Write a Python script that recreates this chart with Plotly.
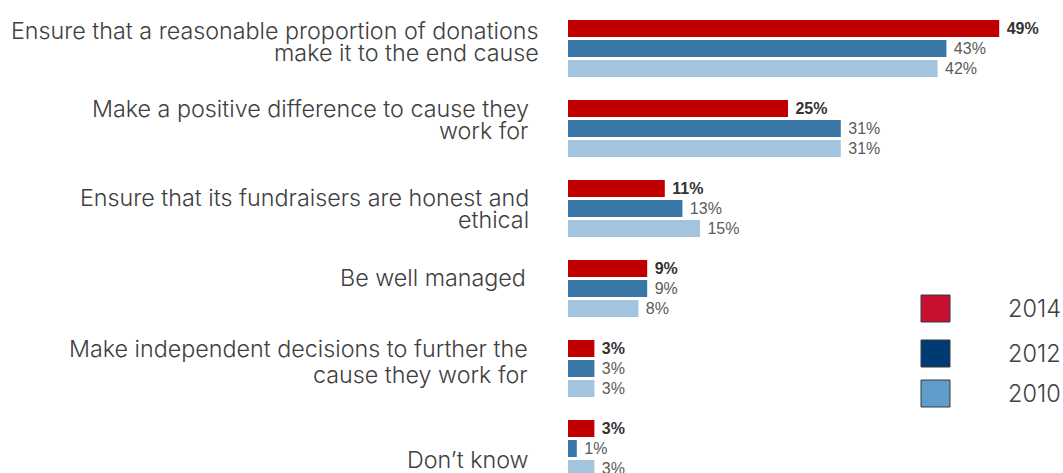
import plotly.graph_objects as go

# Survey responses: what charities should do (% of respondents)
categories = [
    "Ensure that a reasonable proportion of donations make it to the end cause",
    "Make a positive difference to cause they work for",
    "Ensure that its fundraisers are honest and ethical",
    "Be well managed",
    "Make independent decisions to further the cause they work for",
    "Don't know",
]
years = ["2014", "2012", "2010"]
values_2014 = [49, 25, 11, 9, 3, 3]
values_2012 = [43, 31, 13, 9, 3, 1]
values_2010 = [42, 31, 15, 8, 3, 3]

# Category text as shown beside each group: (lines, right edge px, line centres px)
label_lines = [
    ["Ensure that a reasonable proportion of donations", "make it to the end cause"],
    ["Make a positive difference to cause they", "work for"],
    ["Ensure that its fundraisers are honest and", "ethical"],
    ["Be well managed"],
    ["Make independent decisions to further the", "cause they work for"],
    ["Don\u2019t know"],
]
label_right = [541, 531, 531, 528, 530, 531]
label_y = [[30, 52], [109, 130], [197, 219], [277], [348, 374], [459]]

W, H = 1063, 473
bar_colors = ["#C00000", "#3A77A6", "#A3C4DE"]
legend_colors = ["#C60F31", "#003A72", "#5F9BCB"]
series = [values_2014, values_2012, values_2010]

fig = go.Figure()
for name, vals, col in zip(years, series, bar_colors):
    bold = name == "2014"
    fig.add_trace(go.Bar(
        name=name, y=categories, x=vals, orientation="h",
        marker=dict(color=col, line=dict(width=0)),
        texttemplate=("\u00a0<b>%{x}%</b>" if bold else "\u00a0%{x}%"),
        textposition="outside", constraintext="none", cliponaxis=False,
        textfont=dict(family="Liberation Sans", size=16,
                      color="#333333" if bold else "#5a5a5a"),
        hoverinfo="skip",
    ))

x0_px = 568
px_per_pct = 8.8
x_max = (W - x0_px) / px_per_pct
group_px, first_center = 80, 48.5

fig.update_layout(
    width=W, height=H, margin=dict(l=0, r=0, t=0, b=0),
    paper_bgcolor="white", plot_bgcolor="white",
    barmode="group", bargap=0.25, bargroupgap=0.15,
    showlegend=False,
    xaxis=dict(domain=[x0_px / W, 1], range=[0, x_max], visible=False, fixedrange=True),
    yaxis=dict(domain=[0, 1], type="category", visible=False, fixedrange=True,
               categoryorder="array", categoryarray=categories,
               range=[(H - first_center) / group_px, -first_center / group_px]),
)

label_font = dict(family="Inter", size=23.3, color="#404040", weight=300)
for lines, xr, ys in zip(label_lines, label_right, label_y):
    for line, yy in zip(lines, ys):
        fig.add_annotation(text=line, x=xr / W, y=1 - yy / H, xref="paper", yref="paper",
                           xanchor="right", yanchor="middle", showarrow=False,
                           font=label_font)

# Legend: coloured squares with year captions
legend_sq_y = [295, 340, 380]
for yr, col, ty in zip(years, legend_colors, legend_sq_y):
    fig.add_shape(type="rect", xref="paper", yref="paper",
                  x0=921 / W, x1=950 / W, y0=1 - ty / H, y1=1 - (ty + 27) / H,
                  fillcolor=col, line=dict(color="#3a3a3a", width=1))
    fig.add_annotation(text=yr, x=1006 / W, y=1 - (ty + 13) / H, xref="paper", yref="paper",
                       xanchor="left", yanchor="middle", showarrow=False,
                       font=dict(family="Inter", size=23.5, color="#404040", weight=300))

fig.write_html("out.html")
